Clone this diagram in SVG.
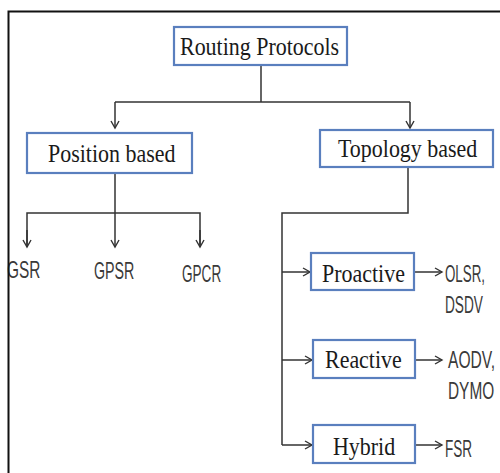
<svg xmlns="http://www.w3.org/2000/svg" width="500" height="473" viewBox="0 0 500 473">
<defs>
<style>
.box{fill:#fff;stroke:#5a7fbe;stroke-width:2.2}
.t{font-family:"Liberation Serif",serif;font-size:26px;fill:#1a1a1a}
.s{font-family:"Liberation Sans",sans-serif;font-size:23px;fill:#3a3a3a}
.ln{fill:none;stroke:#333;stroke-width:1.5}
</style>
<marker id="ah" markerWidth="10" markerHeight="10" refX="8" refY="5" orient="auto" markerUnits="userSpaceOnUse">
<path d="M1,1 L8,5 L1,9" fill="none" stroke="#333" stroke-width="1.4"/>
</marker>
</defs>
<rect x="0" y="0" width="500" height="473" fill="#fff"/>
<g id="connectors">
<path class="ln" d="M261,65 V102"/>
<path class="ln" d="M115,102 H410"/>
<path class="ln" d="M115,102 V128" marker-end="url(#ah)"/>
<path class="ln" d="M410,102 V128" marker-end="url(#ah)"/>
<path class="ln" d="M115,173 V247" marker-end="url(#ah)"/>
<path class="ln" d="M27,247 V213 H200 V247"/>
<path class="ln" d="M27,230 V247" marker-end="url(#ah)"/>
<path class="ln" d="M200,230 V247" marker-end="url(#ah)"/>
<path class="ln" d="M408,167 V213 H282 V445"/>
<path class="ln" d="M282,272 H310" marker-end="url(#ah)"/>
<path class="ln" d="M282,360 H312" marker-end="url(#ah)"/>
<path class="ln" d="M282,445 H312" marker-end="url(#ah)"/>
<path class="ln" d="M414,272 H442" marker-end="url(#ah)"/>
<path class="ln" d="M415,360 H442" marker-end="url(#ah)"/>
<path class="ln" d="M415,445 H442" marker-end="url(#ah)"/>
</g>
<g id="routing"><rect class="box" x="174" y="27" width="173" height="38"/><text class="t" transform="translate(180,55) scale(0.845,1)">Routing Protocols</text></g>
<g id="position"><rect class="box" x="27" y="133" width="165" height="40"/><text class="t" transform="translate(48,162) scale(0.845,1)">Position based</text></g>
<g id="topology"><rect class="box" x="320" y="130" width="173" height="37"/><text class="t" transform="translate(338,157) scale(0.845,1)">Topology based</text></g>
<g id="gsr"><text class="s" transform="translate(7,278) scale(0.67,1)">GSR</text></g>
<g id="gpsr"><text class="s" transform="translate(94,279) scale(0.62,1)">GPSR</text></g>
<g id="gpcr"><text class="s" transform="translate(182,282) scale(0.59,1)">GPCR</text></g>
<g id="proactive"><rect class="box" x="311" y="253" width="103" height="37"/><text class="t" transform="translate(322,282) scale(0.845,1)">Proactive</text></g>
<g id="reactive"><rect class="box" x="313" y="340" width="102" height="38"/><text class="t" transform="translate(325,368) scale(0.845,1)">Reactive</text></g>
<g id="hybrid"><rect class="box" x="313" y="425" width="102" height="38"/><text class="t" transform="translate(333,455) scale(0.845,1)">Hybrid</text></g>
<g id="olsr"><text class="s" transform="translate(445,282) scale(0.58,1)">OLSR,</text><text class="s" transform="translate(445,313) scale(0.595,1)">DSDV</text></g>
<g id="aodv"><text class="s" transform="translate(448,368) scale(0.68,1)">AODV,</text><text class="s" transform="translate(448,399) scale(0.67,1)">DYMO</text></g>
<g id="fsr"><text class="s" transform="translate(445,457) scale(0.59,1)">FSR</text></g>
<path d="M8.5,473 V11.5 H500" fill="none" stroke="#111" stroke-width="2"/>
</svg>
